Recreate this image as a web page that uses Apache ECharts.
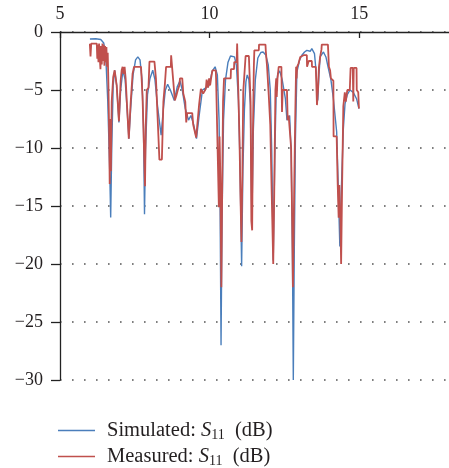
<!DOCTYPE html>
<html>
<head>
<meta charset="utf-8">
<script src="https://cdn.jsdelivr.net/npm/echarts@6/dist/echarts.min.js"></script>
<style>html,body{margin:0;padding:0;background:#fff}#c{width:449px;height:468px}</style>
</head>
<body>
<div id="c"></div>
<script>
// Frequency (GHz) and S11 (dB) values
var freqSim = [6.00,6.196,6.362,6.462,6.528,6.595,6.661,6.694,6.728,6.777,6.827,6.894,6.970,7.027,7.103,7.176,7.243,7.302,7.359,7.442,7.525,7.601,7.674,7.741,7.791,7.824,7.857,7.924,8.007,8.100,8.173,8.256,8.379,8.455,8.522,8.598,8.688,8.821,8.920,9.010,9.086,9.186,9.296,9.375,9.468,9.561,9.651,9.761,9.884,9.983,10.083,10.183,10.259,10.316,10.349,10.382,10.415,10.465,10.532,10.615,10.698,10.757,10.831,10.897,10.963,11.013,11.070,11.113,11.163,11.213,11.256,11.312,11.362,11.412,11.462,11.528,11.611,11.711,11.787,11.877,11.960,12.027,12.076,12.126,12.176,12.226,12.276,12.342,12.425,12.532,12.585,12.674,12.724,12.767,12.797,12.830,12.867,12.917,13.007,13.083,13.173,13.249,13.306,13.362,13.415,13.505,13.555,13.615,13.654,13.694,13.804,13.887,13.970,14.053,14.136,14.246,14.302,14.352,14.402,14.468,14.525,14.601,14.691,14.801,14.910,14.990];
var s11Sim = [-0.6,-0.58,-0.65,-0.95,-2.0,-5.9,-11.9,-16.0,-10.2,-4.6,-3.3,-4.6,-7.8,-5.0,-3.3,-4.1,-6.7,-9.2,-6.7,-3.7,-2.4,-2.15,-2.4,-4.1,-8.4,-15.7,-10.2,-5.4,-4.0,-3.3,-4.1,-6.3,-8.9,-6.6,-5.0,-4.5,-5.0,-5.9,-4.7,-4.2,-5.0,-6.6,-7.6,-7.2,-8.0,-9.2,-7.2,-5.0,-4.8,-4.6,-3.4,-3.0,-3.7,-7.6,-14.5,-27.0,-16.2,-7.6,-4.1,-2.6,-2.07,-1.95,-2.15,-2.9,-5.9,-11.0,-20.2,-11.9,-6.7,-4.3,-3.7,-4.1,-6.3,-16.4,-8.4,-4.1,-2.24,-1.77,-1.72,-1.98,-2.84,-5.0,-10.2,-19.7,-11.0,-5.0,-3.6,-3.36,-4.1,-5.75,-7.6,-7.2,-10.2,-18.8,-30.0,-18.8,-9.3,-3.45,-2.4,-2.0,-1.72,-1.58,-1.55,-1.66,-1.44,-1.87,-3.3,-5.9,-3.7,-2.15,-1.72,-2.15,-3.16,-4.1,-5.75,-8.6,-13.6,-18.5,-13.6,-8.4,-6.2,-5.4,-5.0,-5.2,-5.75,-6.6];

var freqMeas = [5.997,6.020,6.043,6.229,6.246,6.262,6.286,6.306,6.329,6.352,6.372,6.395,6.419,6.442,6.462,6.485,6.505,6.528,6.551,6.571,6.595,6.618,6.645,6.661,6.681,6.701,6.728,6.777,6.827,6.894,6.970,7.027,7.060,7.093,7.126,7.159,7.193,7.243,7.299,7.359,7.425,7.475,7.708,7.757,7.807,7.841,7.867,7.900,7.957,7.990,8.156,8.206,8.256,8.322,8.405,8.455,8.505,8.545,8.704,8.714,8.764,8.787,8.837,8.887,8.937,8.987,9.010,9.086,9.120,9.186,9.219,9.252,9.419,9.452,9.551,9.651,9.708,9.784,9.874,9.900,9.950,9.983,10.017,10.050,10.093,10.206,10.216,10.282,10.309,10.332,10.359,10.392,10.425,10.449,10.482,10.704,10.714,10.814,10.824,10.904,10.920,10.940,10.953,10.997,11.030,11.063,11.096,11.123,11.179,11.203,11.312,11.336,11.369,11.395,11.422,11.445,11.478,11.495,11.645,11.651,11.867,11.877,11.920,11.977,12.027,12.076,12.126,12.159,12.199,12.226,12.243,12.269,12.309,12.399,12.419,12.442,12.585,12.608,12.641,12.698,12.724,12.757,12.784,12.824,12.857,12.890,12.907,12.924,12.973,13.030,13.140,13.249,13.256,13.306,13.312,13.415,13.422,13.548,13.588,13.621,13.654,13.694,13.738,13.748,13.954,13.987,14.027,14.053,14.136,14.143,14.246,14.279,14.312,14.336,14.369,14.395,14.429,14.468,14.518,14.551,14.601,14.684,14.711,14.784,14.801,14.817,14.910,14.917,14.967,14.990];
var s11Meas = [-1.0,-2.1,-1.0,-1.0,-2.3,-1.1,-2.6,-1.0,-2.2,-3.2,-1.2,-2.8,-1.0,-2.5,-1.1,-2.9,-1.2,-2.6,-1.3,-3.0,-1.8,-4.5,-9.0,-13.1,-7.5,-12.0,-6.0,-3.9,-3.3,-4.6,-7.7,-4.2,-3.3,-3.0,-3.6,-3.0,-4.0,-6.5,-9.2,-6.2,-3.6,-3.0,-3.0,-5.5,-10.0,-13.3,-8.0,-5.0,-4.8,-2.55,-2.55,-4.0,-7.0,-11.0,-11.0,-6.0,-4.5,-3.0,-3.0,-2.0,-2.0,-4.3,-5.9,-5.5,-5.0,-4.6,-4.0,-4.0,-5.3,-6.0,-7.8,-7.0,-7.0,-8.0,-9.1,-6.2,-4.9,-5.3,-4.9,-4.1,-4.8,-4.0,-4.6,-4.0,-3.3,-3.3,-4.0,-4.0,-15.1,-9.0,-12.5,-22.0,-12.0,-6.0,-4.0,-4.0,-3.2,-3.2,-2.6,-2.6,-1.0,-1.0,-4.5,-9.0,-14.0,-18.1,-12.0,-5.2,-3.0,-2.07,-2.07,-3.7,-6.0,-16.3,-17.1,-9.0,-3.0,-1.58,-1.58,-1.09,-1.09,-1.6,-3.0,-5.5,-8.0,-14.0,-20.0,-14.0,-5.0,-4.0,-5.6,-4.0,-3.0,-3.0,-6.9,-5.0,-5.0,-7.6,-7.2,-7.2,-10.0,-16.0,-22.0,-14.0,-8.0,-3.0,-4.0,-3.0,-2.7,-2.15,-2.0,-2.0,-3.0,-3.0,-2.5,-2.5,-3.0,-3.0,-6.3,-5.0,-3.0,-2.15,-1.5,-1.09,-1.09,-3.0,-3.3,-4.0,-4.2,-9.0,-9.0,-13.0,-16.0,-13.2,-16.0,-20.0,-13.0,-6.4,-5.2,-6.0,-5.0,-5.0,-3.1,-3.1,-6.0,-3.1,-3.1,-5.0,-5.2,-6.6];

var xTicks = {min: 5, max: 18, step: 5};
var yTicks = {min: -30, max: 0, step: 5};
var legendNames = ['Simulated', 'Measured'];
var colors = ['#4A7EBB', '#C0504D'];

function pairs(xs, ys) { return xs.map(function (x, i) { return [x, ys[i]]; }); }

var serif = '"Liberation Serif", "DejaVu Serif", serif';
var txt = '#231f20';

function legendFor(name, top) {
  return {
    orient: 'horizontal', left: 58, top: top, itemWidth: 37, itemHeight: 1.5, padding: 0,
    icon: 'rect', data: [name],
    formatter: function (n) { return '{p|}{t|' + n + ': }{i|S}{s|11}{t|  (dB)}'; },
    textStyle: {
      color: txt, fontFamily: serif, fontSize: 20.5,
      rich: {
        p: {width: 7},
        t: {fontFamily: serif, fontSize: 20.5, color: txt, lineHeight: 24},
        i: {fontFamily: serif, fontSize: 20.5, color: txt, fontStyle: 'italic', lineHeight: 24},
        s: {fontFamily: serif, fontSize: 14, color: txt, lineHeight: 14, verticalAlign: 'bottom'}
      }
    }
  };
}

var chart = echarts.init(document.getElementById('c'), null, {renderer: 'canvas'});
chart.setOption({
  animation: false,
  backgroundColor: '#fff',
  grid: {left: 60, top: 32, width: 390, height: 348, containLabel: false},
  xAxis: {
    type: 'value', position: 'top', min: xTicks.min, max: xTicks.max, interval: xTicks.step,
    axisLine: {show: true, onZero: false, lineStyle: {color: '#222', width: 1.3}},
    axisTick: {show: true, inside: true, length: 6, lineStyle: {color: '#222', width: 1.3}},
    axisLabel: {color: txt, fontFamily: serif, fontSize: 18, margin: 9, showMaxLabel: false},
    splitLine: {show: false}
  },
  yAxis: {
    type: 'value', min: yTicks.min, max: yTicks.max, interval: yTicks.step,
    axisLine: {show: true, onZero: false, lineStyle: {color: '#222', width: 1.3}},
    axisTick: {show: true, inside: false, length: 9, lineStyle: {color: '#222', width: 1.3}},
    axisLabel: {color: txt, fontFamily: serif, fontSize: 18, margin: 17,
      formatter: function (v) { return v < 0 ? '\u2212' + (-v) : String(v); }},
    splitLine: {show: true, lineStyle: {color: '#555', width: 1.6, type: [1.6, 10.4]}}
  },
  legend: [legendFor(legendNames[0], 420), legendFor(legendNames[1], 446)],
  series: [
    {name: legendNames[0], type: 'line', symbol: 'none', data: pairs(freqSim, s11Sim),
      lineStyle: {color: colors[0], width: 1.4}, itemStyle: {color: colors[0]}, z: 2},
    {name: legendNames[1], type: 'line', symbol: 'none', data: pairs(freqMeas, s11Meas),
      lineStyle: {color: colors[1], width: 1.8}, itemStyle: {color: colors[1]}, z: 3}
  ]
});
</script>
</body>
</html>
